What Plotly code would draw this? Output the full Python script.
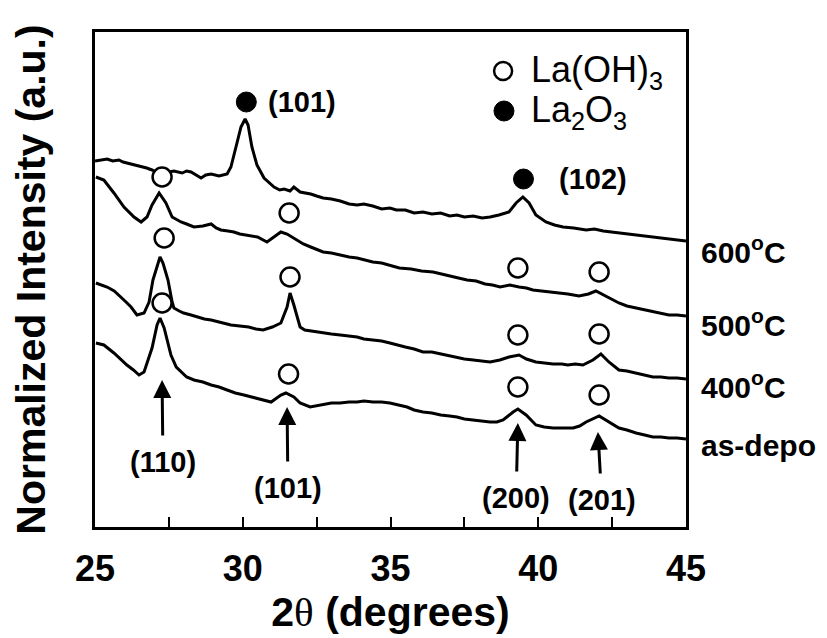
import plotly.graph_objects as go

# ---------------- data ----------------
# 2-theta (degrees) and normalized intensity (a.u., curves offset vertically)
x_600 = [25.00, 25.20, 25.41, 25.60, 25.81, 25.95, 26.08, 26.30, 26.56, 26.75, 26.93, 27.27, 27.50, 27.67,
         27.95, 28.10, 28.25, 28.45, 28.59, 28.75, 28.93, 29.20, 29.47, 29.60, 29.81, 29.94, 30.08,
         30.18, 30.31, 30.48, 30.72, 31.06, 31.25, 31.40, 31.60, 31.73, 31.94, 32.30, 32.50, 32.72,
         33.00, 33.30, 33.60, 33.87, 34.10, 34.40, 34.70, 34.98, 35.20, 35.50, 35.80, 36.10, 36.40,
         36.70, 37.00, 37.25, 37.50, 37.80, 38.10, 38.37, 38.67, 39.01, 39.25, 39.48, 39.69, 39.92,
         40.26, 40.55, 40.84, 41.20, 41.62, 41.90, 42.20, 42.50, 42.73, 43.00, 43.30, 43.60, 43.88,
         44.15, 44.40, 44.70, 45.00]
y_600 = [366, 367, 368, 366, 367, 365, 364, 363, 361, 359, 357, 352, 355, 356,
         354, 356, 355, 351, 349, 352, 353, 351, 353, 360, 384, 400, 408,
         402, 380, 362, 349, 340, 337, 338, 336, 340, 335, 333, 331, 329,
         328, 326, 323, 322, 323, 321, 318, 319, 317, 317, 314, 315, 313,
         314, 311, 312, 310, 311, 309, 310, 312, 315, 324, 330, 324, 312,
         305, 302, 300, 299, 297, 298, 296, 295, 294, 293, 292, 291, 290,
         289, 288, 287, 286]

x_500 = [25.03, 25.30, 25.64, 25.98, 26.32, 26.56, 26.76, 26.93, 27.17, 27.40, 27.61, 27.91, 28.10,
         28.35, 28.65, 28.93, 29.10, 29.26, 29.50, 29.70, 29.90, 30.14, 30.50, 30.82, 31.06, 31.29,
         31.50, 31.84, 32.05, 32.30, 32.72, 33.00, 33.30, 33.60, 33.87, 34.15, 34.40, 34.70, 34.98,
         35.30, 35.70, 36.05, 36.44, 36.70, 37.00, 37.30, 37.59, 37.90, 38.20, 38.45, 38.71, 39.04,
         39.35, 39.60, 39.82, 40.10, 40.50, 40.75, 41.00, 41.38, 41.70, 41.95, 42.33, 42.73, 43.00,
         43.31, 43.60, 43.88, 44.15, 44.42, 44.70, 45.00]
y_500 = [350, 347, 334, 320, 310, 305, 310, 322, 334, 324, 310, 305, 303,
         300, 301, 303, 299, 297, 296, 295, 293, 292, 290, 285, 290, 295,
         293, 287, 283, 280, 275, 274, 272, 270, 269, 267, 265, 264, 262,
         259, 258, 256, 255, 253, 251, 249, 247, 246, 243, 242, 240, 242,
         240, 239, 237, 236, 235, 234, 233, 231, 233, 236, 230, 224, 221,
         219, 217, 215, 213, 212, 212, 211]

x_400 = [25.03, 25.20, 25.41, 25.65, 25.88, 26.05, 26.22, 26.42, 26.66, 26.83, 26.96, 27.10, 27.20,
         27.30, 27.47, 27.61, 27.67, 27.85, 28.00, 28.25, 28.50, 28.70, 28.93, 29.20, 29.60, 29.90,
         30.20, 30.45, 30.69, 31.00, 31.29, 31.50, 31.60, 31.73, 31.94, 32.10, 32.30, 32.50, 32.72,
         33.00, 33.30, 33.60, 33.87, 34.10, 34.40, 34.70, 34.98, 35.20, 35.50, 35.80, 36.10, 36.40,
         36.70, 37.00, 37.25, 37.50, 37.80, 38.10, 38.37, 38.70, 39.01, 39.35, 39.60, 39.92, 40.20,
         40.50, 40.80, 41.00, 41.25, 41.51, 41.85, 42.12, 42.39, 42.73, 43.00, 43.31, 43.60, 43.88,
         44.15, 44.42, 44.70, 45.00]
y_400 = [244, 242, 240, 236, 230, 225, 220, 212, 214, 225, 247, 262, 270,
         264, 247, 225, 219, 216, 214, 212, 210, 208, 207, 205, 202, 201,
         200, 198, 197, 200, 204, 220, 234, 222, 200, 197, 196, 195, 194,
         193, 192, 191, 190, 188, 187, 186, 184, 182, 180, 178, 175, 175,
         173, 171, 170, 168, 167, 166, 165, 167, 170, 172, 168, 165, 164,
         163, 163, 162, 163, 162, 167, 173, 165, 157, 156, 154, 152, 150,
         150, 149, 149, 148]

x_dep = [25.03, 25.30, 25.64, 25.85, 26.08, 26.30, 26.49, 26.66, 26.93, 27.10, 27.20, 27.34, 27.57,
         27.75, 27.91, 28.10, 28.35, 28.65, 28.93, 29.20, 29.47, 29.75, 30.04, 30.30, 30.62, 30.96,
         31.29, 31.46, 31.73, 31.94, 32.28, 32.50, 32.72, 33.00, 33.29, 33.60, 33.87, 34.10, 34.41,
         34.70, 34.98, 35.30, 35.56, 35.80, 36.10, 36.40, 36.70, 37.00, 37.25, 37.50, 37.80, 38.10,
         38.37, 38.60, 38.81, 39.15, 39.31, 39.59, 39.92, 40.20, 40.50, 40.80, 41.18, 41.40, 41.62,
         42.06, 42.39, 42.73, 43.00, 43.31, 43.60, 43.88, 44.15, 44.42, 44.70, 45.00]
y_dep = [184, 182, 174, 168, 162, 157, 152, 155, 179, 202, 209, 199, 172,
         160, 155, 150, 147, 145, 142, 140, 137, 134, 132, 130, 127, 125,
         132, 134, 130, 124, 120, 121, 122, 124, 124, 125, 125, 126, 125,
         125, 124, 122, 120, 117, 115, 114, 112, 111, 110, 108, 107, 106,
         105, 105, 107, 115, 118, 112, 102, 100, 99, 99, 99, 101, 105,
         111, 105, 99, 97, 94, 92, 90, 90, 89, 89, 88]

curves = [(x_600, y_600), (x_500, y_500), (x_400, y_400), (x_dep, y_dep)]
curve_names = ["600<sup>o</sup>C", "500<sup>o</sup>C", "400<sup>o</sup>C", "as-depo"]
curve_label_y = [277, 204, 142, 82]

# La(OH)3 peak markers (open circles)
lahoh_x = [27.27, 31.57, 39.31, 42.06,
           27.34, 31.60, 39.31, 42.06,
           27.27, 31.55, 39.31, 42.06]
lahoh_y = [350, 314, 259, 255,
           289, 250, 192, 193,
           224, 153, 140, 132]

# La2O3 peak markers (filled circles)
la2o3_x = [30.12, 39.50]
la2o3_y = [425, 348]
la2o3_hkl = ["(101)", "(102)"]
la2o3_lbl_x = [30.80, 40.63]

# legend (phase keys)
legend_names = ["La(OH)<sub>3</sub>", "La<sub>2</sub>O<sub>3</sub>"]
legend_key_x = [38.81, 38.84]
legend_key_y = [456, 416]
legend_text_x = 39.68

# Miller indices with arrows (La(OH)3 peaks)
hkl_labels = ["(110)", "(101)", "(200)", "(201)"]
hkl_x = [27.27, 31.50, 39.31, 42.02]
hkl_tip = [147, 120, 104, 95]
hkl_text_x = [27.30, 31.53, 39.25, 42.15]
hkl_text_y = [65, 39, 29, 27]

x_ticks = [25, 30, 35, 40, 45]

# ---------------- figure ----------------
FONT = "Arial, Liberation Sans, sans-serif"
fig = go.Figure()

for (xs, ys), nm in zip(curves, curve_names):
    fig.add_trace(go.Scatter(x=xs, y=ys, mode="lines", line=dict(color="black", width=3),
                             showlegend=False, name=nm, hoverinfo="skip"))

fig.add_trace(go.Scatter(x=lahoh_x, y=lahoh_y, mode="markers", name="La(OH)3", showlegend=False,
                         marker=dict(symbol="circle", size=19, color="white", opacity=1,
                                     line=dict(color="black", width=2.5))))
fig.add_trace(go.Scatter(x=la2o3_x, y=la2o3_y, mode="markers", name="La2O3", showlegend=False,
                         marker=dict(symbol="circle", size=20, color="black", opacity=1,
                                     line=dict(color="black", width=1))))
# legend keys
fig.add_trace(go.Scatter(x=legend_key_x[:1], y=legend_key_y[:1], mode="markers", showlegend=False,
                         hoverinfo="skip",
                         marker=dict(symbol="circle", size=18, color="white", opacity=1,
                                     line=dict(color="black", width=2.5))))
fig.add_trace(go.Scatter(x=legend_key_x[1:], y=legend_key_y[1:], mode="markers", showlegend=False,
                         hoverinfo="skip",
                         marker=dict(symbol="circle", size=20, color="black", opacity=1,
                                     line=dict(color="black", width=1))))

ann = []
for nm, ly in zip(legend_names, legend_key_y):
    ann.append(dict(x=legend_text_x, y=ly, text=nm, showarrow=False, xanchor="left",
                    yanchor="middle", yshift=-1, font=dict(size=36, color="#000000", family=FONT)))
for lx, ly, t in zip(la2o3_lbl_x, la2o3_y, la2o3_hkl):
    ann.append(dict(x=lx, y=ly, text="<b>" + t + "</b>", showarrow=False, xanchor="left",
                    yanchor="middle", font=dict(size=29, color="black", family=FONT)))
for t, x, tip, tx, ty in zip(hkl_labels, hkl_x, hkl_tip, hkl_text_x, hkl_text_y):
    ann.append(dict(x=x, y=tip, ax=tx, ay=ty, axref="x", ayref="y", text="<b>" + t + "</b>",
                    showarrow=True, arrowhead=2, arrowsize=1.2, arrowwidth=3, arrowcolor="black",
                    startstandoff=9, font=dict(size=29, color="black", family=FONT)))
for nm, ly in zip(curve_names, curve_label_y):
    ann.append(dict(x=1.022, xref="paper", y=ly, yref="y", text="<b>" + nm + "</b>",
                    showarrow=False, xanchor="left", yanchor="middle",
                    font=dict(size=30, color="black", family=FONT)))

fig.update_layout(
    width=819, height=630,
    margin=dict(l=87, r=141, t=24, b=111),
    paper_bgcolor="white", plot_bgcolor="white",
    font=dict(family=FONT, color="black"),
    annotations=ann,
    showlegend=False,
    xaxis=dict(range=[25, 45], tickvals=x_ticks, ticks="inside", ticklen=10, tickwidth=2,
               tickcolor="black", showline=True, linewidth=3, linecolor="black", mirror=True,
               showgrid=False, zeroline=False, ticklabelstandoff=8,
               tickfont=dict(size=36, family=FONT, weight="bold", color="black"),
               minor=dict(dtick=2.5, tick0=25, ticks="inside", ticklen=10, tickwidth=2, tickcolor="black"),
               title=dict(text="<b>2</b><span style='font-family:Liberation Serif'>θ</span><b> (degrees)</b>",
                          font=dict(size=41, family=FONT, color="black"), standoff=4)),
    yaxis=dict(range=[0, 495], showticklabels=False, ticks="", showline=True, linewidth=3,
               linecolor="black", mirror=True, showgrid=False, zeroline=False,
               title=dict(text="<b>Normalized Intensity (a.u.)</b>",
                          font=dict(size=41, family=FONT, color="black"), standoff=44)),
)

fig.write_html("out.html", config={"displayModeBar": False})
